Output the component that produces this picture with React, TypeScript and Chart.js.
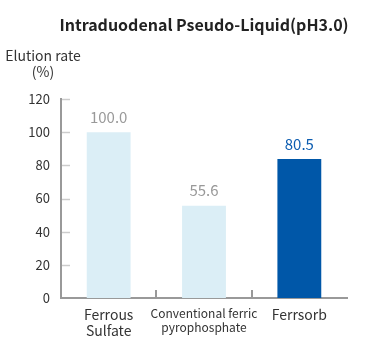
import React, { useEffect, useRef } from "react";
import { Chart, registerables } from "chart.js";

Chart.register(...registerables);

const categories: string[][] = [["Ferrous", "Sulfate"], ["Conventional ferric", "pyrophosphate"], ["Ferrsorb"]];
const barValues: number[] = [100, 55.6, 83.8];
const valueLabels: string[] = ["100.0", "55.6", "80.5"];
const yTicks: number[] = [0, 20, 40, 60, 80, 100, 120];
const titleText = "Intraduodenal Pseudo-Liquid(pH3.0)";
const yTitleLines: string[] = ["Elution rate", "(%)"];

const FONT = "'Noto Sans CJK JP', 'Noto Sans', sans-serif";
const barColors = ["#dbeef6", "#dbeef6", "#0057a8"];
const labelColors = ["#999999", "#999999", "#0b5cb0"];

const decorPlugin = {
  id: "decor",
  afterDraw(chart: any) {
    const ctx = chart.ctx;
    const area = chart.chartArea;
    const x = chart.scales.x;
    const y = chart.scales.y;
    ctx.save();
    // inner y ticks
    ctx.strokeStyle = "#cccccc";
    ctx.lineWidth = 1.5;
    yTicks.forEach((v) => {
      if (v === 0) return;
      const py = Math.round(y.getPixelForValue(v)) + 0.5;
      ctx.beginPath();
      ctx.moveTo(area.left + 1, py);
      ctx.lineTo(area.left + 9, py);
      ctx.stroke();
    });
    // category separators
    ctx.strokeStyle = "#999999";
    ctx.lineWidth = 2;
    for (let i = 0; i < categories.length - 1; i++) {
      const px = Math.round((x.getPixelForValue(i) + x.getPixelForValue(i + 1)) / 2);
      ctx.beginPath();
      ctx.moveTo(px, area.bottom);
      ctx.lineTo(px, area.bottom - 8);
      ctx.stroke();
    }
    // value labels
    ctx.font = `15px ${FONT}`;
    ctx.textAlign = "center";
    ctx.textBaseline = "middle";
    const meta = chart.getDatasetMeta(0);
    meta.data.forEach((bar: any, i: number) => {
      ctx.fillStyle = labelColors[i];
      ctx.fillText(valueLabels[i], bar.x, bar.y - 15);
    });
    // titles
    ctx.fillStyle = "#222222";
    ctx.font = `bold 16px ${FONT}`;
    ctx.fillText(titleText, 204, 25);
    ctx.fillStyle = "#333333";
    ctx.font = `14px ${FONT}`;
    ctx.fillText(yTitleLines[0], 43, 56);
    ctx.fillText(yTitleLines[1], 43, 72);
    ctx.restore();
  },
};

export default function App() {
  const ref = useRef<HTMLCanvasElement>(null);
  useEffect(() => {
    if (!ref.current) return;
    const chart = new Chart(ref.current, {
      type: "bar",
      data: {
        labels: categories,
        datasets: [
          {
            data: barValues,
            backgroundColor: barColors,
            borderWidth: 0,
            barPercentage: 0.46,
            categoryPercentage: 1,
          },
        ],
      },
      options: {
        animation: false,
        responsive: false,
        maintainAspectRatio: false,
        layout: { padding: { top: 99, right: 34, left: 0, bottom: 0 } },
        plugins: { legend: { display: false }, tooltip: { enabled: false }, title: { display: false } },
        scales: {
          x: {
            grid: { display: false, drawTicks: false },
            border: { color: "#999999", width: 2 },
            ticks: {
              color: "#333333",
              padding: 9,
              maxRotation: 0,
              autoSkip: false,
              font: (c: any) => ({ family: FONT, size: c.index === 1 ? 12 : 14, lineHeight: 1.15 }),
            },
            afterFit: (s: any) => {
              s.height = 58;
            },
          },
          y: {
            min: 0,
            max: 120,
            grid: { display: false, drawTicks: false },
            border: { color: "#999999", width: 2 },
            ticks: {
              stepSize: 20,
              color: "#333333",
              padding: 11,
              font: { family: FONT, size: 13 },
            },
            afterFit: (s: any) => {
              s.width = 61;
            },
          },
        },
      },
      plugins: [decorPlugin],
    });
    return () => chart.destroy();
  }, []);
  return (
    <div style={{ position: "fixed", left: 0, top: 0, width: 381, height: 356, background: "#fff" }}>
      <canvas ref={ref} width={381} height={356} style={{ width: 381, height: 356 }} />
    </div>
  );
}
